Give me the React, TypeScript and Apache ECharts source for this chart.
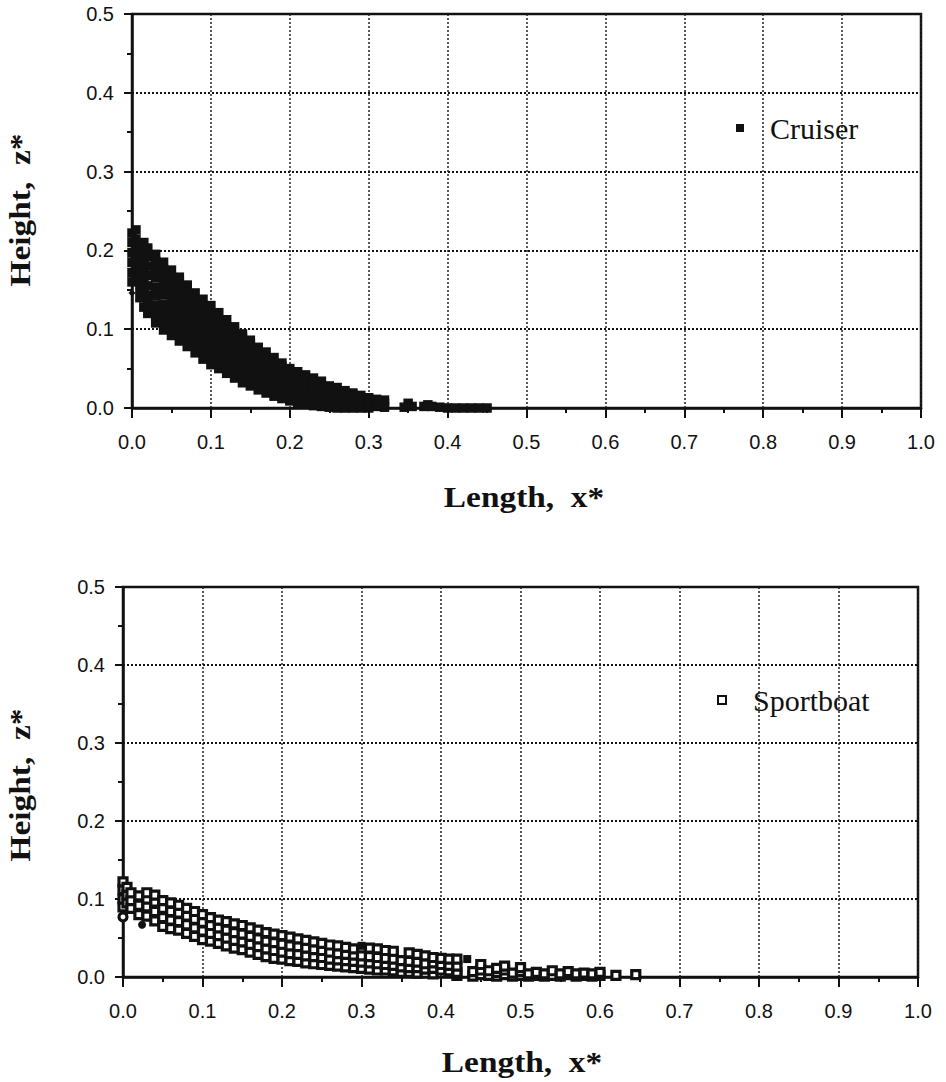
import React, { useEffect, useRef } from "react";
import * as echarts from "echarts";

// ---- Data ----
const xTicks = ["0.0", "0.1", "0.2", "0.3", "0.4", "0.5", "0.6", "0.7", "0.8", "0.9", "1.0"];
const zTicks = ["0.0", "0.1", "0.2", "0.3", "0.4", "0.5"];

// Cruiser: filled squares, x < 0.1
const cruiserNear: [number, number][] = [
  [0.0, 0.16], [0.0, 0.172], [0.0, 0.185], [0.0, 0.197], [0.0, 0.21], [0.0, 0.222],
  [0.005, 0.165], [0.005, 0.178], [0.005, 0.19], [0.005, 0.202], [0.005, 0.214], [0.005, 0.226],
  [0.01, 0.14], [0.01, 0.152], [0.01, 0.163], [0.01, 0.175], [0.01, 0.187], [0.01, 0.198], [0.01, 0.209],
  [0.015, 0.128], [0.015, 0.14], [0.015, 0.152], [0.015, 0.165], [0.015, 0.178], [0.015, 0.19], [0.015, 0.201], [0.015, 0.21],
  [0.02, 0.12], [0.02, 0.131], [0.02, 0.143], [0.02, 0.155], [0.02, 0.168], [0.02, 0.18], [0.02, 0.192], [0.02, 0.203],
  [0.03, 0.108], [0.03, 0.119], [0.03, 0.13], [0.03, 0.142], [0.03, 0.153], [0.03, 0.165], [0.03, 0.176], [0.03, 0.186], [0.03, 0.195],
  [0.04, 0.099], [0.04, 0.11], [0.04, 0.121], [0.04, 0.132], [0.04, 0.144], [0.04, 0.155], [0.04, 0.166], [0.04, 0.176], [0.04, 0.185],
  [0.05, 0.092], [0.05, 0.102], [0.05, 0.112], [0.05, 0.123], [0.05, 0.134], [0.05, 0.145], [0.05, 0.156], [0.05, 0.166], [0.05, 0.175],
  [0.06, 0.085], [0.06, 0.095], [0.06, 0.106], [0.06, 0.117], [0.06, 0.128], [0.06, 0.139], [0.06, 0.15], [0.06, 0.16], [0.06, 0.166],
  [0.07, 0.078], [0.07, 0.088], [0.07, 0.098], [0.07, 0.109], [0.07, 0.12], [0.07, 0.131], [0.07, 0.142], [0.07, 0.152], [0.07, 0.156],
  [0.08, 0.07], [0.08, 0.08], [0.08, 0.091], [0.08, 0.102], [0.08, 0.113], [0.08, 0.124], [0.08, 0.135], [0.08, 0.146],
  [0.09, 0.062], [0.09, 0.073], [0.09, 0.084], [0.09, 0.095], [0.09, 0.106], [0.09, 0.117], [0.09, 0.128], [0.09, 0.138],
];
// Cruiser: 0.1 <= x < 0.2
const cruiserMid: [number, number][] = [
  [0.1, 0.055], [0.1, 0.066], [0.1, 0.077], [0.1, 0.088], [0.1, 0.099], [0.1, 0.11], [0.1, 0.12], [0.1, 0.13],
  [0.11, 0.05], [0.11, 0.06], [0.11, 0.07], [0.11, 0.08], [0.11, 0.091], [0.11, 0.101], [0.11, 0.111], [0.11, 0.121],
  [0.12, 0.044], [0.12, 0.054], [0.12, 0.064], [0.12, 0.074], [0.12, 0.084], [0.12, 0.094], [0.12, 0.103], [0.12, 0.112],
  [0.13, 0.038], [0.13, 0.048], [0.13, 0.058], [0.13, 0.068], [0.13, 0.078], [0.13, 0.087], [0.13, 0.096], [0.13, 0.103],
  [0.14, 0.032], [0.14, 0.042], [0.14, 0.052], [0.14, 0.062], [0.14, 0.072], [0.14, 0.081], [0.14, 0.09], [0.14, 0.094],
  [0.15, 0.028], [0.15, 0.037], [0.15, 0.046], [0.15, 0.055], [0.15, 0.064], [0.15, 0.073], [0.15, 0.081], [0.15, 0.086],
  [0.16, 0.023], [0.16, 0.032], [0.16, 0.041], [0.16, 0.05], [0.16, 0.059], [0.16, 0.068], [0.16, 0.077],
  [0.17, 0.019], [0.17, 0.028], [0.17, 0.037], [0.17, 0.046], [0.17, 0.055], [0.17, 0.063], [0.17, 0.071],
  [0.18, 0.015], [0.18, 0.024], [0.18, 0.033], [0.18, 0.042], [0.18, 0.05], [0.18, 0.058], [0.18, 0.064],
  [0.19, 0.012], [0.19, 0.021], [0.19, 0.03], [0.19, 0.038], [0.19, 0.046], [0.19, 0.053], [0.19, 0.057],
];
// Cruiser: x >= 0.2
const cruiserFar: [number, number][] = [
  [0.2, 0.009], [0.2, 0.018], [0.2, 0.026], [0.2, 0.034], [0.2, 0.042], [0.2, 0.05],
  [0.21, 0.007], [0.21, 0.015], [0.21, 0.023], [0.21, 0.031], [0.21, 0.039], [0.21, 0.046],
  [0.22, 0.005], [0.22, 0.013], [0.22, 0.021], [0.22, 0.028], [0.22, 0.035], [0.22, 0.042],
  [0.23, 0.003], [0.23, 0.011], [0.23, 0.019], [0.23, 0.026], [0.23, 0.033], [0.23, 0.038],
  [0.24, 0.002], [0.24, 0.009], [0.24, 0.016], [0.24, 0.023], [0.24, 0.03], [0.24, 0.034],
  [0.25, 0.001], [0.25, 0.007], [0.25, 0.014], [0.25, 0.021], [0.25, 0.028],
  [0.26, 0.0], [0.26, 0.006], [0.26, 0.012], [0.26, 0.019], [0.26, 0.026],
  [0.27, 0.0], [0.27, 0.005], [0.27, 0.011], [0.27, 0.017], [0.27, 0.022],
  [0.28, 0.0], [0.28, 0.004], [0.28, 0.01], [0.28, 0.016], [0.28, 0.019],
  [0.29, 0.0], [0.29, 0.006], [0.29, 0.012], [0.29, 0.016],
  [0.3, 0.0], [0.3, 0.005], [0.3, 0.011], [0.3, 0.013],
  [0.31, 0.002], [0.31, 0.008], [0.31, 0.011],
  [0.32, 0.001], [0.32, 0.006], [0.32, 0.01],
  [0.345, 0.001], [0.35, 0.006], [0.355, 0.002],
  [0.37, 0.002], [0.375, 0.004], [0.38, 0.002], [0.39, 0.001], [0.4, 0.0],
  [0.41, 0.0], [0.42, 0.0], [0.43, 0.0], [0.44, 0.0], [0.45, 0.0],
];
const cruiserOdd: [number, number][] = [[0.0, 0.146]];

// Sportboat: open squares
const sportNear: [number, number][] = [
  [0.0, 0.09], [0.0, 0.1], [0.0, 0.112], [0.0, 0.122],
  [0.005, 0.095], [0.005, 0.105], [0.005, 0.115],
  [0.01, 0.088], [0.01, 0.098], [0.01, 0.108],
  [0.02, 0.08], [0.02, 0.092], [0.02, 0.104],
  [0.03, 0.078], [0.03, 0.09], [0.03, 0.1], [0.03, 0.108],
  [0.04, 0.072], [0.04, 0.084], [0.04, 0.096], [0.04, 0.105],
  [0.05, 0.065], [0.05, 0.076], [0.05, 0.088], [0.05, 0.098],
  [0.06, 0.062], [0.06, 0.073], [0.06, 0.084], [0.06, 0.095],
  [0.07, 0.06], [0.07, 0.071], [0.07, 0.082], [0.07, 0.092],
  [0.08, 0.056], [0.08, 0.067], [0.08, 0.078], [0.08, 0.088],
  [0.09, 0.052], [0.09, 0.063], [0.09, 0.074], [0.09, 0.084],
  [0.1, 0.048], [0.1, 0.059], [0.1, 0.07], [0.1, 0.08],
  [0.11, 0.046], [0.11, 0.056], [0.11, 0.066], [0.11, 0.076],
  [0.12, 0.043], [0.12, 0.053], [0.12, 0.063], [0.12, 0.073],
  [0.13, 0.04], [0.13, 0.05], [0.13, 0.06], [0.13, 0.071],
  [0.14, 0.037], [0.14, 0.047], [0.14, 0.057], [0.14, 0.068],
  [0.15, 0.035], [0.15, 0.045], [0.15, 0.055], [0.15, 0.066],
  [0.16, 0.032], [0.16, 0.042], [0.16, 0.052], [0.16, 0.063],
  [0.17, 0.029], [0.17, 0.039], [0.17, 0.049], [0.17, 0.06],
  [0.18, 0.026], [0.18, 0.036], [0.18, 0.046], [0.18, 0.057],
  [0.19, 0.024], [0.19, 0.034], [0.19, 0.044], [0.19, 0.055],
];
const sportMid: [number, number][] = [
  [0.2, 0.023], [0.2, 0.032], [0.2, 0.042], [0.2, 0.053],
  [0.21, 0.021], [0.21, 0.03], [0.21, 0.04], [0.21, 0.051],
  [0.22, 0.02], [0.22, 0.029], [0.22, 0.039], [0.22, 0.049],
  [0.23, 0.018], [0.23, 0.027], [0.23, 0.037], [0.23, 0.047],
  [0.24, 0.017], [0.24, 0.026], [0.24, 0.035], [0.24, 0.045],
  [0.25, 0.016], [0.25, 0.025], [0.25, 0.034], [0.25, 0.043],
  [0.26, 0.015], [0.26, 0.023], [0.26, 0.032], [0.26, 0.041],
  [0.27, 0.014], [0.27, 0.022], [0.27, 0.03], [0.27, 0.04],
  [0.28, 0.013], [0.28, 0.021], [0.28, 0.029], [0.28, 0.038],
  [0.29, 0.012], [0.29, 0.02], [0.29, 0.028], [0.29, 0.036],
  [0.3, 0.011], [0.3, 0.019], [0.3, 0.027],
  [0.31, 0.01], [0.31, 0.018], [0.31, 0.026], [0.31, 0.037],
  [0.32, 0.009], [0.32, 0.017], [0.32, 0.025], [0.32, 0.036],
  [0.33, 0.009], [0.33, 0.016], [0.33, 0.024], [0.33, 0.034],
  [0.34, 0.008], [0.34, 0.015], [0.34, 0.023], [0.34, 0.033],
  [0.35, 0.006], [0.35, 0.013], [0.35, 0.021],
  [0.36, 0.006], [0.36, 0.012], [0.36, 0.02], [0.36, 0.031],
  [0.37, 0.005], [0.37, 0.012], [0.37, 0.019], [0.37, 0.029],
  [0.38, 0.01], [0.38, 0.017], [0.38, 0.027],
  [0.39, 0.004], [0.39, 0.011], [0.39, 0.018], [0.39, 0.025],
];
const sportFar: [number, number][] = [
  [0.4, 0.009], [0.4, 0.016], [0.4, 0.024],
  [0.41, 0.008], [0.41, 0.015], [0.41, 0.023],
  [0.42, 0.002], [0.42, 0.006], [0.42, 0.014], [0.42, 0.023],
  [0.44, 0.001], [0.44, 0.007],
  [0.45, 0.003], [0.45, 0.009], [0.45, 0.016],
  [0.46, 0.002], [0.46, 0.008],
  [0.47, 0.001], [0.47, 0.006], [0.47, 0.011],
  [0.48, 0.003], [0.48, 0.009], [0.48, 0.014],
  [0.49, 0.001], [0.49, 0.005],
  [0.5, 0.002], [0.5, 0.007], [0.5, 0.012],
  [0.51, 0.001], [0.51, 0.004],
  [0.52, 0.002], [0.52, 0.006],
  [0.53, 0.001], [0.53, 0.004],
  [0.54, 0.002], [0.54, 0.008],
  [0.55, 0.001], [0.55, 0.004],
  [0.56, 0.003], [0.56, 0.007],
  [0.57, 0.001], [0.57, 0.004],
  [0.58, 0.002], [0.58, 0.005],
  [0.59, 0.001], [0.59, 0.004],
  [0.6, 0.002], [0.6, 0.006],
  [0.62, 0.002], [0.645, 0.003],
];
const sportFilledSq: [number, number][] = [[0.3, 0.04], [0.433, 0.023]];
const sportFilledDot: [number, number][] = [[0.024, 0.067]];
const sportOpenDot: [number, number][] = [[0.0, 0.077]];

const SANS = "'Liberation Sans', Arial, Helvetica, sans-serif";
const SERIF = "'Liberation Serif', 'Times New Roman', serif";
const INK = "#111";

function xAxisCfg(gridIndex: number) {
  return {
    type: "value",
    gridIndex,
    min: 0,
    max: 1,
    interval: 0.1,
    axisLine: { show: true, onZero: false, lineStyle: { color: INK, width: 2.5 } },
    axisTick: { show: true, length: 10, lineStyle: { color: INK, width: 2 } },
    minorTick: { show: true, splitNumber: 2, length: 5, lineStyle: { color: INK, width: 2 } },
    axisLabel: {
      margin: 24,
      fontFamily: SANS,
      fontSize: 20,
      color: INK,
      formatter: (v: number) => xTicks[Math.round(v * 10)] ?? "",
    },
    splitLine: { show: true, lineStyle: { color: "#222", width: 1.5, type: [2, 2] } },
  };
}

function yAxisCfg(gridIndex: number) {
  return {
    type: "value",
    gridIndex,
    min: 0,
    max: 0.5,
    interval: 0.1,
    axisLine: { show: true, onZero: false, lineStyle: { color: INK, width: 2.5 } },
    axisTick: { show: true, length: 8, lineStyle: { color: INK, width: 2 } },
    minorTick: { show: true, splitNumber: 2, length: 5, lineStyle: { color: INK, width: 2 } },
    axisLabel: {
      margin: 18,
      fontFamily: SANS,
      fontSize: 20,
      color: INK,
      formatter: (v: number) => zTicks[Math.round(v * 10)] ?? "",
    },
    splitLine: { show: true, lineStyle: { color: "#111", width: 2, type: [2, 2] } },
  };
}

function title(text: string, x: number, y: number, vertical: boolean) {
  return {
    type: "text",
    x,
    y,
    rotation: vertical ? Math.PI / 2 : 0,
    scaleX: 1.15,
    style: {
      text,
      font: `bold 29px ${SERIF}`,
      fill: INK,
      textAlign: "center",
      textVerticalAlign: "middle",
    },
  };
}

export default function App() {
  const ref = useRef<HTMLDivElement>(null);
  useEffect(() => {
    if (!ref.current) return;
    const chart = echarts.init(ref.current, undefined, { renderer: "svg" });
    const cruiserStyle = { color: INK, opacity: 1 };
    const sportStyle = { color: "#fff", borderColor: INK, borderWidth: 3.2, opacity: 1 };
    chart.setOption({
      animation: false,
      backgroundColor: "#fff",
      grid: [
        { left: 132, top: 14, width: 789, height: 394, show: true, borderColor: INK, borderWidth: 2.5, backgroundColor: "transparent" },
        { left: 123, top: 587, width: 795, height: 390, show: true, borderColor: INK, borderWidth: 2.5, backgroundColor: "transparent" },
      ],
      xAxis: [xAxisCfg(0), xAxisCfg(1)],
      yAxis: [yAxisCfg(0), yAxisCfg(1)],
      legend: [
        {
          data: ["Cruiser"],
          left: 731,
          top: 108,
          itemWidth: 8,
          itemHeight: 8,
          icon: "rect",
          textStyle: { fontFamily: SERIF, fontSize: 30, color: INK, padding: [10, 0, 0, 21] },
          selectedMode: false,
        },
        {
          data: ["Sportboat"],
          left: 712,
          top: 680,
          itemWidth: 8,
          itemHeight: 8,
          icon: "rect",
          textStyle: { fontFamily: SERIF, fontSize: 30, color: INK, padding: [9, 0, 0, 22] },
          selectedMode: false,
        },
      ],
      graphic: [
        title("Length,  x*", 524, 497, false),
        title("Length,  x*", 522, 1062, false),
        title("Height,  z*", 20, 210, true),
        title("Height,  z*", 20, 785, true),
      ],
      series: [
        { name: "Cruiser", type: "scatter", xAxisIndex: 0, yAxisIndex: 0, symbol: "rect", symbolSize: 9.5, itemStyle: cruiserStyle, data: cruiserNear },
        { name: "Cruiser", type: "scatter", xAxisIndex: 0, yAxisIndex: 0, symbol: "rect", symbolSize: 9.5, itemStyle: cruiserStyle, data: cruiserMid },
        { name: "Cruiser", type: "scatter", xAxisIndex: 0, yAxisIndex: 0, symbol: "rect", symbolSize: 9.5, itemStyle: cruiserStyle, data: cruiserFar },
        { name: "Cruiser (odd)", type: "scatter", xAxisIndex: 0, yAxisIndex: 0, symbol: "diamond", symbolSize: 7, itemStyle: cruiserStyle, data: cruiserOdd },
        { name: "Sportboat", type: "scatter", xAxisIndex: 1, yAxisIndex: 1, symbol: "rect", symbolSize: 8, itemStyle: sportStyle, data: sportNear },
        { name: "Sportboat", type: "scatter", xAxisIndex: 1, yAxisIndex: 1, symbol: "rect", symbolSize: 8, itemStyle: sportStyle, data: sportMid },
        { name: "Sportboat", type: "scatter", xAxisIndex: 1, yAxisIndex: 1, symbol: "rect", symbolSize: 8, itemStyle: sportStyle, data: sportFar },
        { name: "Sportboat (filled)", type: "scatter", xAxisIndex: 1, yAxisIndex: 1, symbol: "rect", symbolSize: 8, itemStyle: { color: INK, opacity: 1 }, data: sportFilledSq },
        { name: "Sportboat (dot)", type: "scatter", xAxisIndex: 1, yAxisIndex: 1, symbol: "circle", symbolSize: 8, itemStyle: { color: INK, opacity: 1 }, data: sportFilledDot },
        { name: "Sportboat (ring)", type: "scatter", xAxisIndex: 1, yAxisIndex: 1, symbol: "circle", symbolSize: 8, itemStyle: sportStyle, data: sportOpenDot },
      ],
    });
    return () => chart.dispose();
  }, []);
  return (
    <div
      ref={ref}
      style={{ position: "fixed", left: 0, top: 0, width: 946, height: 1082, background: "#fff" }}
    />
  );
}
